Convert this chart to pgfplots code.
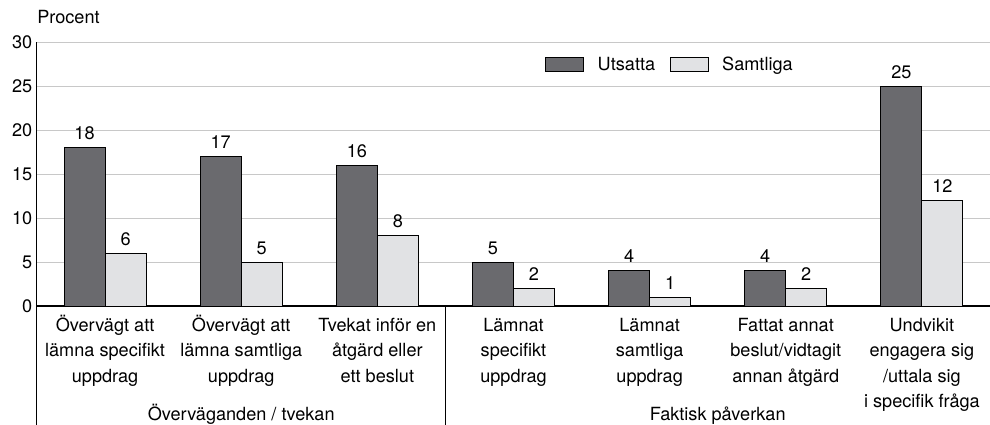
\documentclass[border=0pt]{standalone}
\usepackage{fontspec}
\setmainfont{TeX Gyre Heros}
\usepackage{pgfplots}
\pgfplotsset{compat=1.18}
\definecolor{darkbar}{RGB}{106,106,110}
\definecolor{lightbar}{RGB}{225,226,228}
\definecolor{gridc}{RGB}{200,200,200}
\newcommand{\f}{\fontsize{13.6}{19.2}\selectfont}
\begin{document}
\begin{tikzpicture}
\begin{axis}[
  scale only axis, width=714.75pt, height=198pt,
  clip=false,
  xmin=-0.5, xmax=6.5, ymin=0, ymax=30,
  ytick={0,5,...,30},
  xtick={0,...,6},
  xticklabels={
    {\strut Övervägt att\\lämna specifikt\\uppdrag},
    {\strut Övervägt att\\lämna samtliga\\uppdrag},
    {\strut Tvekat inför en\\åtgärd eller\\ett beslut},
    {\strut Lämnat\\specifikt\\uppdrag},
    {\strut Lämnat\\samtliga\\uppdrag},
    {\strut Fattat annat\\beslut/vidtagit\\annan åtgärd},
    {\strut Undvikit\\engagera sig\\/uttala sig\\i specifik fråga}},
  axis x line=bottom, axis y line=left, axis line style={-},
  x axis line style={line width=1pt},
  y axis line style={line width=0.75pt},
  major tick length=0pt,
  ymajorgrids, grid style={gridc, line width=0.75pt},
  ybar=0pt, bar width=30.75pt,
  ticklabel style={font=\f},
  /pgf/number format/assume math mode=true,
  xticklabel style={align=center, yshift=-1.8pt},
  nodes near coords,
  nodes near coords style={font=\f, anchor=base, yshift=6pt},
  legend columns=2,
  legend style={at={(rel axis cs:0.529,0.913)}, anchor=west, draw=none, fill=none, font=\f,
    /tikz/every even column/.append style={column sep=9pt},
    /tikz/every odd column/.append style={column sep=8pt}},
]
\addplot[fill=darkbar, draw=black, line width=0.75pt,
  legend image code/.code={\draw[fill=darkbar,draw=black,line width=0.75pt] (0pt,-5.25pt) rectangle (28.5pt,5.25pt);}]
  coordinates {(0,18) (1,17) (2,16) (3,5) (4,4) (5,4) (6,25)};
\addplot[fill=lightbar, draw=black, line width=0.75pt,
  legend image code/.code={\draw[fill=lightbar,draw=black,line width=0.75pt] (0pt,-5.25pt) rectangle (28.5pt,5.25pt);}]
  coordinates {(0,6) (1,5) (2,8) (3,2) (4,1) (5,2) (6,12)};
\legend{Utsatta, Samtliga}
\draw[line width=0.75pt] (rel axis cs:0,0) -- ++(0pt,-89.25pt);
\draw[line width=0.75pt] (axis cs:2.5,0) -- ++(0pt,-89.25pt);
\node[anchor=base, inner sep=0pt, font=\f] at ([yshift=-85.5pt]axis cs:1,0) {Överväganden / tvekan};
\node[anchor=base, inner sep=0pt, font=\f] at ([yshift=-85.5pt]axis cs:4.5,0) {Faktisk påverkan};
\node[anchor=base west, inner sep=0pt, font=\f] at ([yshift=14.25pt]rel axis cs:0,1) {Procent};
\coordinate (O) at (rel axis cs:0,0);
\end{axis}
\pgfresetboundingbox
\path ([shift={(-27.75pt,-89.25pt)}]O) rectangle ([shift={(714.75pt,229.5pt)}]O);
\end{tikzpicture}
\end{document}
